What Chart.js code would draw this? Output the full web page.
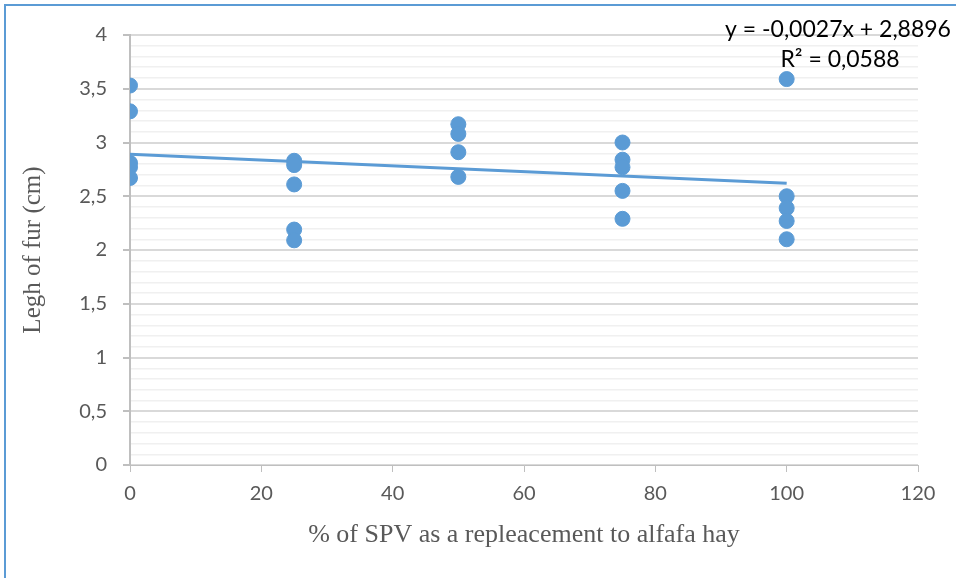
<!DOCTYPE html>
<html>
<head>
<meta charset="utf-8">
<script src="https://cdn.jsdelivr.net/npm/chart.js@4.4.1/dist/chart.umd.min.js"></script>
<style>
  html, body { margin: 0; padding: 0; background: #fff; }
  #wrap { width: 956px; height: 578px; }
</style>
</head>
<body>
<div id="wrap"><canvas id="furChart" width="956" height="578"></canvas></div>
<script>
// % of SPV replacing alfalfa hay, and the measured fur length (cm)
const spvLevel = [0, 0, 0, 0, 0, 25, 25, 25, 25, 25, 50, 50, 50, 50, 75, 75, 75, 75, 75, 100, 100, 100, 100, 100]
const furLength = [3.53, 3.29, 2.81, 2.77, 2.67, 2.83, 2.79, 2.61, 2.19, 2.09, 3.17, 3.08, 2.91, 2.68, 3.00, 2.84, 2.77, 2.55, 2.29, 3.59, 2.50, 2.39, 2.27, 2.10]
// linear trend line end points (as drawn)
const trendX = [0, 100]
const trendY = [2.89, 2.62]
const trendText = ["y = -0,0027x + 2,8896", "R² = 0,0588"]

const blue = '#5b9bd5'
const tickFont = { family: 'Lato', size: 20 }

const pts = spvLevel.map((x, i) => ({ x: x, y: furLength[i] }))
const trend = trendX.map((x, i) => ({ x: x, y: trendY[i] }))

const isMajor = v => Math.abs(Math.round(v * 10) % 5) === 0

const extras = {
    id: 'extras',
    beforeDraw(chart) {
        const c = chart.ctx
        c.save()
        c.fillStyle = '#fff'
        c.fillRect(0, 0, chart.width, chart.height)
        c.restore()
    },
    afterDraw(chart) {
        const c = chart.ctx
        c.save()
        c.strokeStyle = blue
        c.lineWidth = 2
        c.strokeRect(5, 5, chart.width + 20, chart.height + 20)
        c.fillStyle = '#000'
        c.font = '23px Lato'
        c.textAlign = 'center'
        c.textBaseline = 'middle'
        c.fillText(trendText[0], 838, 30)
        c.fillText(trendText[1], 840, 60)
        c.restore()
    }
}

var myChart = new Chart(document.getElementById('furChart').getContext('2d'), {
    type: 'scatter',
    data: {
        datasets: [{
            data: pts,
            backgroundColor: blue,
            borderColor: blue,
            pointRadius: 7.5,
            pointHoverRadius: 7.5,
            order: 1
        }, {
            type: 'line',
            data: trend,
            borderColor: blue,
            borderWidth: 3,
            pointRadius: 0,
            fill: false,
            order: 2
        }]
    },
    plugins: [extras],
    options: {
        responsive: false,
        animation: false,
        layout: { padding: { top: 35, right: 38, left: 0, bottom: 0 } },
        plugins: { legend: { display: false }, tooltip: { enabled: false } },
        scales: {
            x: {
                type: 'linear',
                min: 0, max: 120,
                ticks: { stepSize: 20, color: '#595959', font: tickFont, padding: 10 },
                grid: { drawOnChartArea: false, color: '#bfbfbf', tickLength: 7 },
                border: { color: '#bfbfbf', width: 1 },
                title: {
                    display: true,
                    text: '% of SPV as a repleacement to alfafa hay',
                    color: '#595959',
                    font: { family: 'Liberation Serif', size: 26 },
                    padding: { top: 0, bottom: 27 }
                },
                afterFit(scale) { scale.height = 113 }
            },
            y: {
                min: 0, max: 4,
                ticks: {
                    stepSize: 0.1,
                    autoSkip: false,
                    color: '#595959',
                    font: tickFont,
                    padding: 16,
                    callback: v => isMajor(v) ? String(Math.round(v * 10) / 10).replace('.', ',') : ''
                },
                grid: {
                    color: ctx => isMajor(ctx.tick.value) ? '#d9d9d9' : '#f0f0f0',
                    lineWidth: ctx => isMajor(ctx.tick.value) ? 2 : 1.5,
                    tickColor: ctx => isMajor(ctx.tick.value) ? '#bfbfbf' : 'rgba(0,0,0,0)',
                    tickLength: 7
                },
                border: { color: '#bfbfbf', width: 2 },
                title: {
                    display: true,
                    text: 'Legh of fur (cm)',
                    color: '#595959',
                    font: { family: 'Liberation Serif', size: 25 },
                    padding: { top: 18, bottom: 0 }
                },
                afterFit(scale) { scale.width = 130 }
            }
        }
    }
})
</script>
</body>
</html>
